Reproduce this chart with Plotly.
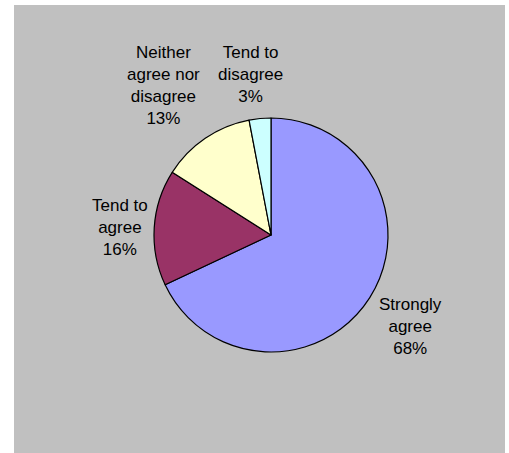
import plotly.graph_objects as go

categories = ["Strongly<br>agree", "Tend to<br>agree", "Neither<br>agree nor<br>disagree", "Tend to<br>disagree"]
values = [68, 16, 13, 3]
colors = ["#9999FF", "#993366", "#FFFFCC", "#CCFFFF"]

W, H = 509, 453
cx, cy, R = 271, 235, 117
# label centres in pixels (layout only)
label_pos = [(410.5, 326.5), (119.5, 227), (163, 85.5), (250.3, 75)]

fig = go.Figure(go.Pie(
    labels=categories,
    values=values,
    sort=False,
    direction="clockwise",
    rotation=0,
    marker=dict(colors=colors, line=dict(color="black", width=1.2)),
    textinfo="none",
    domain=dict(x=[(cx - R) / W, (cx + R) / W], y=[(H - cy - R) / H, (H - cy + R) / H]),
    showlegend=False,
    hoverinfo="label+percent",
))

total = sum(values)
annotations = []
for cat, v, (px, py) in zip(categories, values, label_pos):
    annotations.append(dict(
        x=px / W, y=1 - py / H, xref="paper", yref="paper",
        xanchor="center", yanchor="middle", align="center",
        text=f"{cat}<br>{round(v / total * 100)}%",
        showarrow=False,
        font=dict(family="Liberation Sans, Arial, sans-serif", size=17, color="black"),
    ))

fig.update_layout(
    width=W, height=H,
    margin=dict(l=0, r=0, t=0, b=0),
    paper_bgcolor="white",
    plot_bgcolor="white",
    annotations=annotations,
    shapes=[dict(type="rect", xref="paper", yref="paper",
                 x0=14 / W, x1=505 / W, y0=0, y1=(H - 5) / H,
                 fillcolor="#C0C0C0", line=dict(width=0), layer="below")],
)

fig.write_html("out.html", config={"displayModeBar": False},
               post_script="document.body.style.margin='0';document.body.style.overflow='hidden';")
